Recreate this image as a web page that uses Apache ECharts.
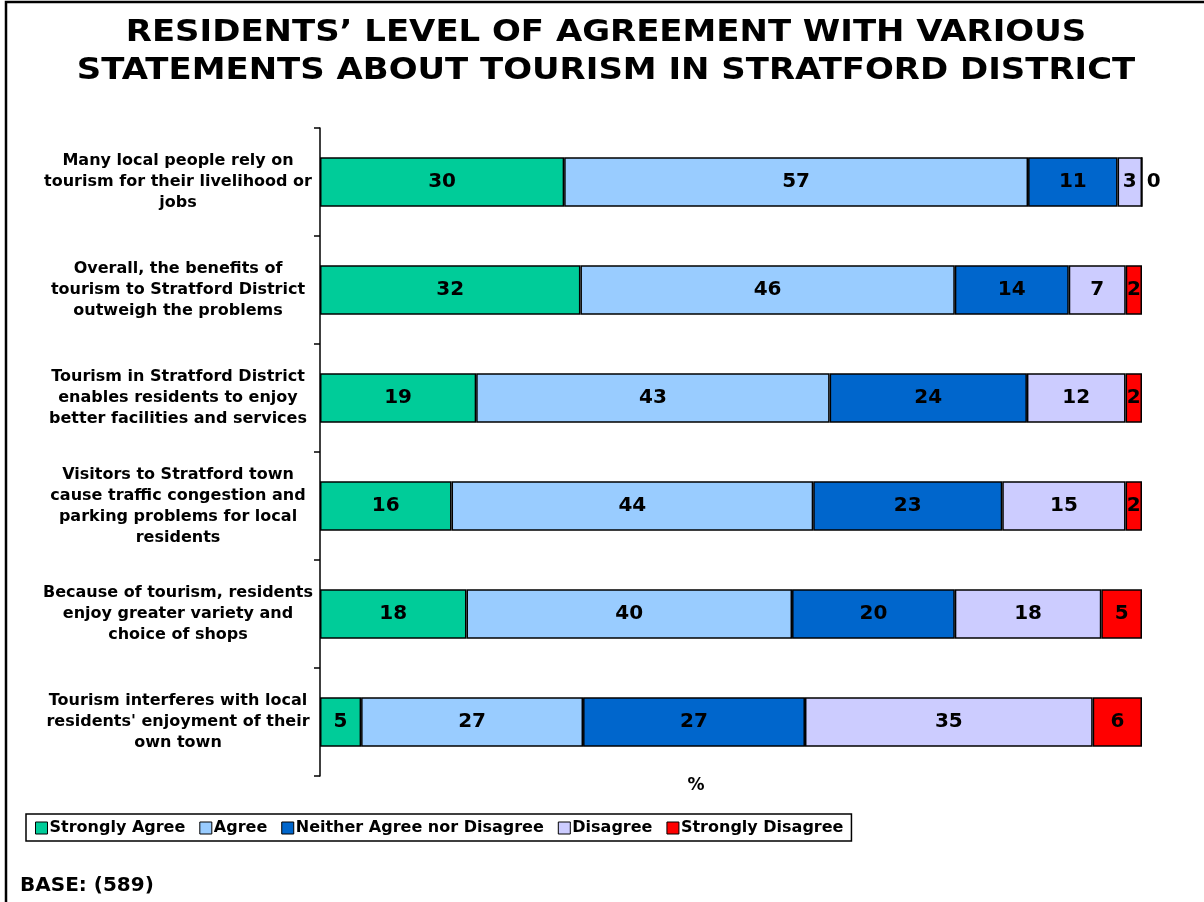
<!DOCTYPE html>
<html><head><meta charset="utf-8">
<script src="https://cdn.jsdelivr.net/npm/echarts@6/dist/echarts.min.js"></script>
<style>html,body{margin:0;padding:0;background:#fff}#c{width:1204px;height:902px}</style>
</head><body><div id="c"></div>
<script>
const categories = [
  "Many local people rely on\ntourism for their livelihood or\njobs",
  "Overall, the benefits of\ntourism to Stratford District\noutweigh the problems",
  "Tourism in Stratford District\nenables residents to enjoy\nbetter facilities and services",
  "Visitors to Stratford town\ncause traffic congestion and\nparking problems for local\nresidents",
  "Because of tourism, residents\nenjoy greater variety and\nchoice of shops",
  "Tourism interferes with local\nresidents' enjoyment of their\nown town"
];
const seriesNames = ["Strongly Agree","Agree","Neither Agree nor Disagree","Disagree","Strongly Disagree"];
const stronglyAgree    = [30,32,19,16,18,5];
const agree            = [57,46,43,44,40,27];
const neither          = [11,14,24,23,20,27];
const disagree         = [3,7,12,15,18,35];
const stronglyDisagree = [0,2,2,2,5,6];
const colors = ["#00CC99","#99CCFF","#0066CC","#CCCCFF","#FF0000"];
const titleLines = ["RESIDENTS’ LEVEL OF AGREEMENT WITH VARIOUS", "STATEMENTS ABOUT TOURISM IN STRATFORD DISTRICT"];

const raw = [stronglyAgree, agree, neither, disagree, stronglyDisagree];
const totals = categories.map((_, i) => raw.reduce((s, arr) => s + arr[i], 0));
const FONT = "DejaVu Sans";

const series = raw.map((arr, si) => ({
  name: seriesNames[si],
  type: 'bar',
  stack: 'total',
  barWidth: '46%',
  itemStyle: { color: colors[si], borderColor: '#000', borderWidth: 1.5 },
  label: {
    show: true, position: 'inside', color: '#000',
    fontFamily: FONT, fontWeight: 'bold', fontSize: 20,
    formatter: p => String(arr[p.dataIndex])
  },
  data: arr.map((v, i) => {
    const d = { value: v / totals[i] * 100 };
    if (v === 0) d.label = { position: 'right', distance: 4 };
    return d;
  })
}));

const chart = echarts.init(document.getElementById('c'), null, { renderer: 'canvas' });
chart.setOption({
  animation: false,
  backgroundColor: '#fff',
  color: colors,
  graphic: [
    { type: 'rect', shape: { x: 6, y: 2, width: 1400, height: 1400 }, style: { fill: 'none', stroke: '#000', lineWidth: 2.5 }, silent: true, z: -1 },
    { type: 'text', x: 606, y: 33, scaleX: 1.095, style: { text: titleLines[0], align: 'center', verticalAlign: 'middle', fontFamily: FONT, fontWeight: 'bold', fontSize: 31, fill: '#000' } },
    { type: 'text', x: 606, y: 71, scaleX: 1.095, style: { text: titleLines[1], align: 'center', verticalAlign: 'middle', fontFamily: FONT, fontWeight: 'bold', fontSize: 31, fill: '#000' } },
    { type: 'text', x: 696, y: 786, style: { text: '%', align: 'center', verticalAlign: 'middle', fontFamily: FONT, fontWeight: 'bold', fontSize: 17, fill: '#000' } },
    { type: 'text', x: 20, y: 886, style: { text: 'BASE: (589)', align: 'left', verticalAlign: 'middle', fontFamily: FONT, fontWeight: 'bold', fontSize: 20, fill: '#000' } }
  ],
  legend: {
    left: 26, top: 814,
    data: seriesNames,
    icon: 'rect', itemWidth: 12, itemHeight: 12, itemGap: 14,
    itemStyle: { borderColor: '#000', borderWidth: 1 },
    borderColor: '#000', borderWidth: 1.5, padding: [6, 8, 5, 9],
    textStyle: { fontFamily: FONT, fontWeight: 'bold', fontSize: 16, color: '#000', padding: [0, 0, 0, -3] }
  },
  grid: { left: 320, right: 62, top: 128, bottom: 126 },
  xAxis: {
    type: 'value', min: 0, max: 100,
    axisLine: { show: false }, axisTick: { show: false }, axisLabel: { show: false }, splitLine: { show: false }
  },
  yAxis: {
    type: 'category', data: categories, inverse: true,
    axisLine: { show: true, lineStyle: { color: '#000', width: 1.5 } },
    axisTick: { show: true, length: 6, lineStyle: { color: '#000', width: 1.5 } },
    axisLabel: {
      fontFamily: FONT, fontWeight: 'bold', fontSize: 16, color: '#000',
      align: 'center', margin: 142, lineHeight: 21
    }
  },
  series: series
});
</script></body></html>
